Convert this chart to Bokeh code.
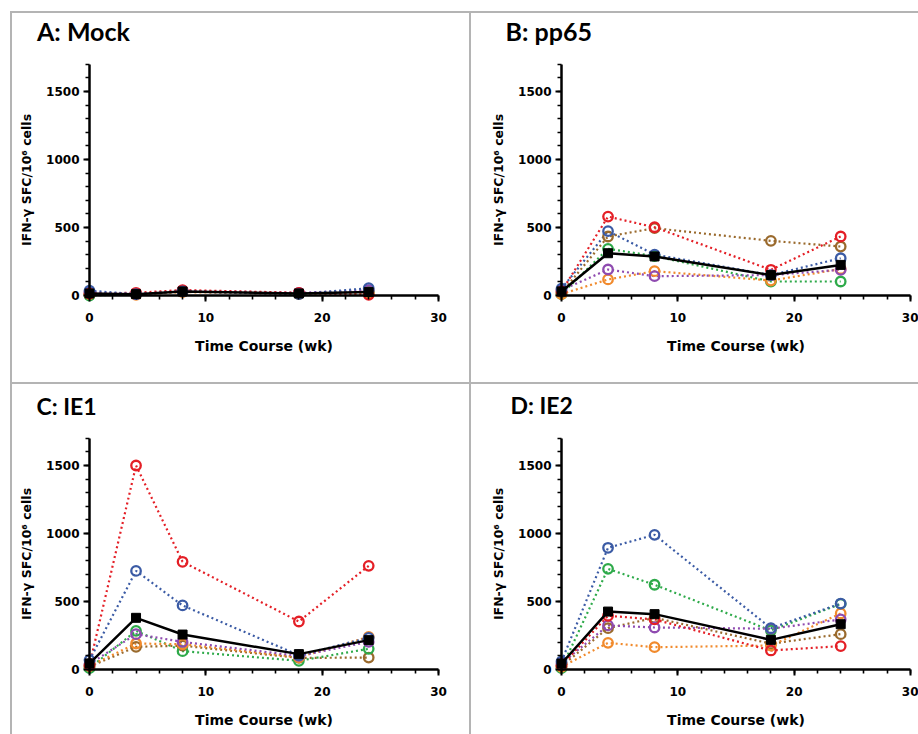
from bokeh.plotting import figure
from bokeh.models import Range1d, FixedTicker, Label, Div, Spacer
from bokeh.layouts import row, column
from bokeh.embed import file_html
from bokeh.resources import INLINE

# ---------------- data ----------------
weeks = [0, 4, 8, 18, 24]
# subjects listed in drawing order (later ones lie on top)
subject_colors = ["#9a6a2d", "#2eaa4a", "#f18a2c", "#8f4bb0", "#e41f26", "#3b5ba5"]

# A: Mock  (brown, green, orange, purple, red, blue)
mock_brown = [10, 10, 30, 15, 30]
mock_green = [0, 10, 30, 15, 25]
mock_orange = [10, 5, 25, 10, 15]
mock_purple = [25, 10, 35, 20, 40]
mock_red = [15, 20, 40, 20, 5]
mock_blue = [35, 10, 30, 10, 54]
mock_mean = [15, 10, 30, 15, 25]

# B: pp65
pp65_brown = [20, 434, 495, 402, 360]
pp65_green = [10, 343, 290, 103, 103]
pp65_orange = [10, 118, 179, 110, 195]
pp65_purple = [40, 191, 142, 150, 189]
pp65_red = [30, 580, 502, 189, 434]
pp65_blue = [50, 473, 301, 150, 274]
pp65_mean = [30, 311, 287, 150, 225]

# C: IE1
ie1_brown = [20, 167, 175, 85, 88]
ie1_green = [10, 284, 135, 64, 152]
ie1_orange = [25, 191, 186, 90, 240]
ie1_purple = [40, 260, 203, 100, 203]
ie1_red = [32, 1500, 792, 353, 762]
ie1_blue = [69, 725, 471, 105, 233]
ie1_mean = [45, 380, 257, 113, 216]

# D: IE2
ie2_brown = [25, 304, 380, 190, 260]
ie2_green = [10, 740, 623, 287, 482]
ie2_orange = [20, 196, 164, 176, 412]
ie2_purple = [45, 324, 309, 300, 368]
ie2_red = [30, 395, 368, 140, 172]
ie2_blue = [60, 895, 990, 304, 485]
ie2_mean = [44, 426, 407, 218, 333]

panel_titles = ["A: Mock", "B: pp65", "C: IE1", "D: IE2"]
x_ticks = [0, 10, 20, 30]
x_minor_ticks = list(range(0, 31, 2))
y_ticks = [0, 500, 1000, 1500]
y_minor_ticks = list(range(0, 1701, 100))
x_axis_label = "Time Course (wk)"
y_axis_label = "IFN-γ SFC/10⁶ cells"

panels_data = [
    ([mock_brown, mock_green, mock_orange, mock_purple, mock_red, mock_blue], mock_mean),
    ([pp65_brown, pp65_green, pp65_orange, pp65_purple, pp65_red, pp65_blue], pp65_mean),
    ([ie1_brown, ie1_green, ie1_orange, ie1_purple, ie1_red, ie1_blue], ie1_mean),
    ([ie2_brown, ie2_green, ie2_orange, ie2_purple, ie2_red, ie2_blue], ie2_mean),
]

# ---------------- geometry (page pixels) ----------------
# fig_x, fig_y, fig_w, fig_h, x0px, x30px, y0px, y1500px, title_x, title_y, title_size
geoms = [
    (12, 13, 457, 369, 89, 438, 295, 91, 36.5, 30.5, "25px"),
    (471, 13, 447, 369, 561, 910, 295, 91, 505, 30.0, "25px"),
    (12, 384, 457, 350, 89, 438, 669, 465, 36, 405.5, "23px"),
    (471, 384, 447, 350, 561, 910, 669, 465, 510, 404.0, "23px"),
]

FONT = "DejaVu Sans"


def make_panel(title, series, mean, g):
    fx, fy, fw, fh, x0, x30, y0, y1500, tx, ty, tsize = g
    sx = (x30 - x0) / 30.0
    sy = (y0 - y1500) / 1500.0
    f_left, f_right = fx, fx + fw
    f_top, f_bottom = fy, fy + fh
    p = figure(
        width=fw, height=fh, output_backend="svg", toolbar_location=None,
        x_range=Range1d((f_left - x0) / sx, (f_right - x0) / sx),
        y_range=Range1d((y0 - f_bottom) / sy, (y0 - f_top) / sy),
        min_border_left=0, min_border_right=0,
        min_border_top=0, min_border_bottom=0,
    )
    p.title.visible = False
    p.outline_line_color = None
    p.xgrid.visible = False
    p.ygrid.visible = False
    p.background_fill_color = "white"
    p.border_fill_color = "white"

    for ax in (p.xaxis[0], p.yaxis[0]):
        ax.axis_line_width = 2.5
        ax.axis_line_color = "black"
        ax.major_tick_line_width = 2
        ax.major_tick_out = 6
        ax.major_tick_in = 0
        ax.minor_tick_line_width = 1.6
        ax.minor_tick_out = 4
        ax.minor_tick_in = 0
        ax.major_label_text_font = FONT
        ax.major_label_text_font_style = "bold"
        ax.major_label_text_font_size = "12px"
        ax.major_label_text_color = "black"
        ax.axis_label_text_font = FONT
        ax.axis_label_text_font_style = "bold"
        ax.axis_label_text_color = "black"

    p.xaxis.ticker = FixedTicker(ticks=x_ticks, minor_ticks=x_minor_ticks)
    p.yaxis.ticker = FixedTicker(ticks=y_ticks, minor_ticks=y_minor_ticks)
    p.xaxis.bounds = (0, 30)
    p.yaxis.bounds = (0, 1700)
    p.xaxis.fixed_location = 0
    p.yaxis.fixed_location = 0
    p.xaxis.major_label_standoff = 11
    p.yaxis.major_label_standoff = 4
    p.xaxis.axis_label = x_axis_label
    p.xaxis.axis_label_text_font_size = "14px"
    p.xaxis.axis_label_standoff = 13
    p.yaxis.axis_label = y_axis_label
    p.yaxis.axis_label_text_font_size = "12.5px"
    p.yaxis.axis_label_standoff = 9

    for vals, c in zip(series, subject_colors):
        p.line(weeks, vals, line_color=c, line_width=2.2, line_dash="2 3")
    for vals, c in zip(series, subject_colors):
        p.scatter(weeks, vals, marker="circle", size=9.5, line_color=c,
                  line_width=2.3, fill_color=None)
    p.line(weeks, mean, line_color="black", line_width=2.5)
    p.scatter(weeks, mean, marker="square", size=9, color="black")

    p.add_layout(Label(
        x=(tx - x0) / sx, y=(y0 - ty) / sy, text=title,
        text_font="Lato", text_font_style="bold", text_font_size=tsize,
        text_color="black", text_baseline="alphabetic", text_align="left",
    ))
    return p


figs = [make_panel(t, s, m, g) for t, (s, m), g in zip(panel_titles, panels_data, geoms)]

LINE = "#b4b4b4"


def hline(w):
    return Div(width=w, height=2, margin=0, styles={"background-color": LINE})


def vline(h):
    return Div(width=2, height=h, margin=0, styles={"background-color": LINE})


def gap(w, h):
    return Spacer(width=w, height=h, margin=0)


layout = column(
    gap(918, 11),
    row(gap(10, 2), hline(908), spacing=0),
    row(gap(10, 369), vline(369), figs[0], vline(369), figs[1], spacing=0),
    row(gap(10, 2), hline(908), spacing=0),
    row(gap(10, 350), vline(350), figs[2], vline(350), figs[3], spacing=0),
    spacing=0,
)

open("out.html", "w").write(file_html(layout, INLINE))
